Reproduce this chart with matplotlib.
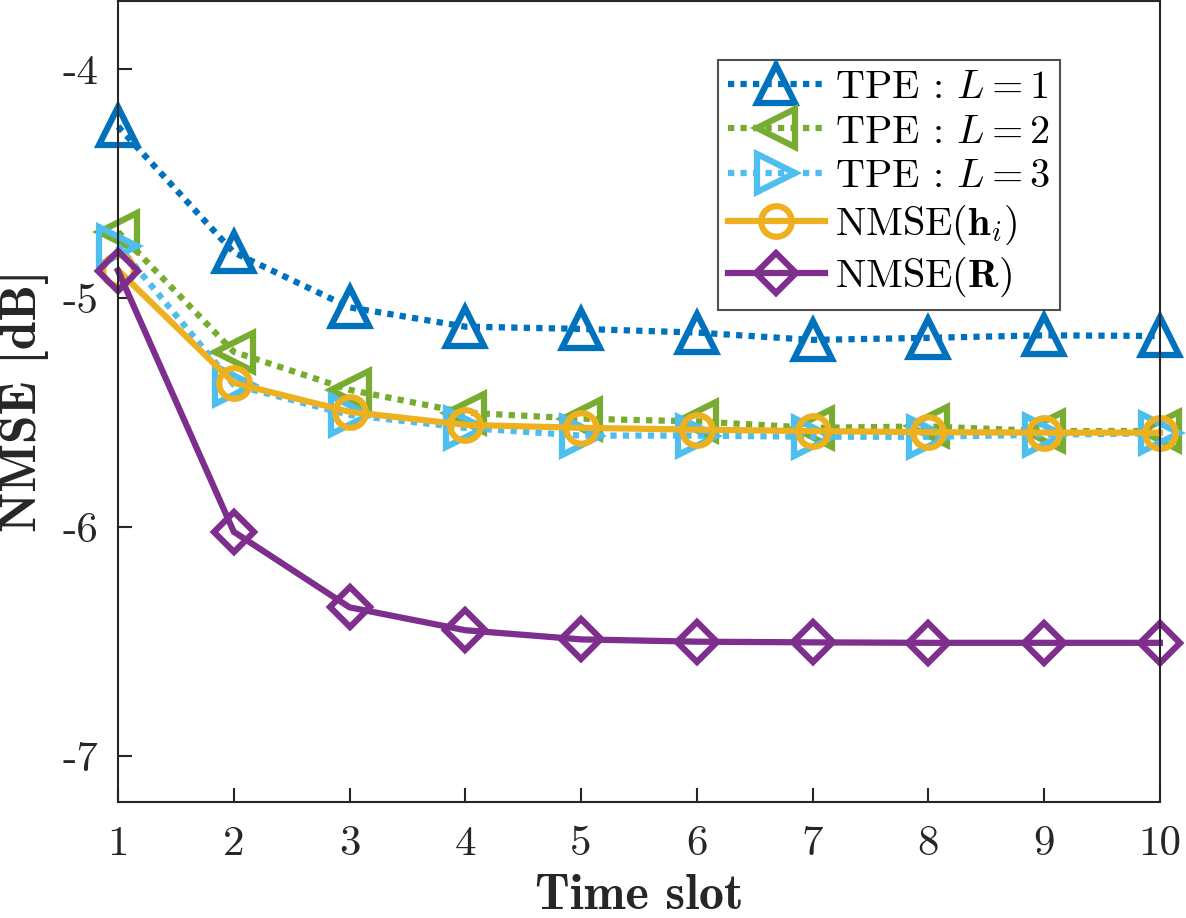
import matplotlib
matplotlib.use("Agg")
import matplotlib.pyplot as plt

plt.rcParams['mathtext.fontset'] = 'cm'
plt.rcParams['font.family'] = ['cmr10', 'DejaVu Serif']
plt.rcParams['axes.unicode_minus'] = False
plt.rcParams['axes.formatter.use_mathtext'] = False

time_slot = [1, 2, 3, 4, 5, 6, 7, 8, 9, 10]
tpe_L1 = [-4.25, -4.80, -5.04, -5.124, -5.134, -5.150, -5.182, -5.173, -5.162, -5.165]
tpe_L2 = [-4.71, -5.234, -5.40, -5.50, -5.526, -5.538, -5.566, -5.56, -5.58, -5.58]
tpe_L3 = [-4.77, -5.378, -5.51, -5.566, -5.60, -5.60, -5.605, -5.605, -5.596, -5.59]
nmse_h = [-4.877, -5.37, -5.496, -5.553, -5.566, -5.574, -5.58, -5.585, -5.587, -5.587]
nmse_R = [-4.88, -6.02, -6.35, -6.45, -6.49, -6.50, -6.503, -6.505, -6.505, -6.505]

labels = [r'TPE : $L=1$', r'TPE : $L=2$', r'TPE : $L=3$',
          r'NMSE($\mathbf{h}_i$)', r'NMSE($\mathbf{R}$)']
colors = ['#0072BD', '#77AC30', '#4DBEEE', '#EDB120', '#7E2F8E']

fig = plt.figure(figsize=(11.86, 9.18), dpi=100)
ax = fig.add_axes([0.0995, 0.1264, 0.8785, 0.873])

lw = 4.5
mew = 4.5
dot = (0, (1, 1))
common = dict(lw=lw, mfc='none', mew=mew, clip_on=False, dash_capstyle='butt')
ax.plot(time_slot, tpe_L1, ls=dot, color=colors[0], marker='^', ms=27,
        label=labels[0], **common)
ax.plot(time_slot, tpe_L2, ls=dot, color=colors[1], marker='<', ms=27,
        label=labels[1], **common)
ax.plot(time_slot, tpe_L3, ls=dot, color=colors[2], marker='>', ms=27,
        label=labels[2], **common)
ax.plot(time_slot, nmse_h, ls='-', color=colors[3], marker='o', ms=22,
        label=labels[3], **common)
ax.plot(time_slot, nmse_R, ls='-', color=colors[4], marker='D', ms=20,
        label=labels[4], **common)

ax.set_xlim(1, 10)
ax.set_ylim(-7.2, -3.7)
ax.set_xticks(time_slot)
ax.set_xticklabels([str(t) for t in time_slot])
ax.set_yticks([-7, -6, -5, -4])
ax.set_yticklabels(['-7', '-6', '-5', '-4'])
ax.tick_params(direction='in', length=10, width=1.5, labelsize=31, pad=14,
               colors='#262626', labelcolor='#262626')
ax.tick_params(axis='x', pad=17)
for s in ax.spines.values():
    s.set_linewidth(1.5)
    s.set_color('#262626')

ax.set_xlabel('Time slot', fontsize=36, family=['cmb10', 'DejaVu Serif'],
              color='#262626', labelpad=8)
ax.set_ylabel('NMSE [dB]', fontsize=37, family=['cmb10', 'DejaVu Serif'],
              color='#262626', labelpad=10)

leg = ax.legend(loc='upper right', bbox_to_anchor=(1060 / 1186, 1 - 60 / 918),
                bbox_transform=fig.transFigure, fontsize=29, frameon=True,
                fancybox=False, edgecolor='#262626', handlelength=2.4,
                handletextpad=0.25, borderpad=0.25, labelspacing=0.2,
                borderaxespad=0)
leg.get_frame().set_linewidth(1.5)

fig.savefig('out.png', dpi=100)
